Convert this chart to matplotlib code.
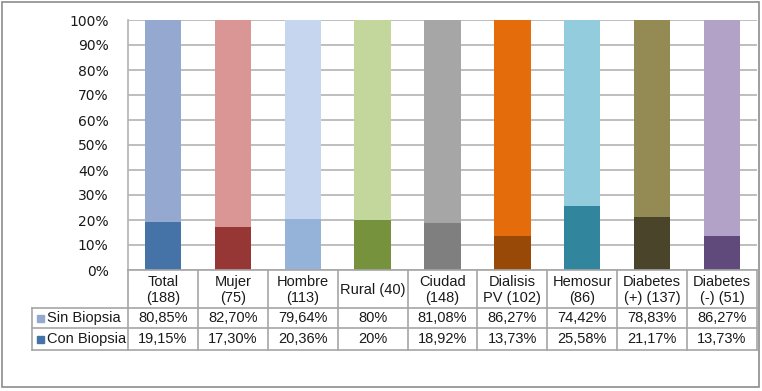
import matplotlib
matplotlib.use("Agg")
import matplotlib.pyplot as plt
import numpy as np

categories = ["Total\n(188)", "Mujer\n(75)", "Hombre\n(113)", "Rural (40)", "Ciudad\n(148)",
              "Dialisis\nPV (102)", "Hemosur\n(86)", "Diabetes\n(+) (137)", "Diabetes\n(-) (51)"]
sin_biopsia = [80.85, 82.70, 79.64, 80.0, 81.08, 86.27, 74.42, 78.83, 86.27]
con_biopsia = [19.15, 17.30, 20.36, 20.0, 18.92, 13.73, 25.58, 21.17, 13.73]
sin_labels = ["80,85%", "82,70%", "79,64%", "80%", "81,08%", "86,27%", "74,42%", "78,83%", "86,27%"]
con_labels = ["19,15%", "17,30%", "20,36%", "20%", "18,92%", "13,73%", "25,58%", "21,17%", "13,73%"]
series_names = ["Sin Biopsia", "Con Biopsia"]

top_colors = ["#95A9D0", "#DA9694", "#C5D6EE", "#C3D69B", "#A6A6A6",
              "#E46C0A", "#93CDDD", "#948A54", "#B3A2C7"]
bottom_colors = ["#4573A7", "#963735", "#95B2D8", "#76923C", "#7F7F7F",
                 "#984807", "#31859C", "#4A452A", "#604A7B"]

W, H = 762, 391
fig = plt.figure(figsize=(W / 100, H / 100), dpi=100)

def fx(px):
    return px / W

def fy(py):
    return 1 - py / H

x0, x1, ytop, ybot = 128, 757, 20, 270
ax = fig.add_axes([fx(x0), fy(ybot), fx(x1) - fx(x0), fy(ytop) - fy(ybot)])

n = len(categories)
x = np.arange(n)
ax.bar(x, con_biopsia, width=0.52, color=bottom_colors, zorder=3)
ax.bar(x, sin_biopsia, width=0.52, bottom=con_biopsia, color=top_colors, zorder=3)
ax.set_xlim(-0.5, n - 0.5)
ax.set_ylim(0, 100)
ax.set_yticks(range(0, 101, 10))
ax.set_yticklabels([f"{v}%" for v in range(0, 101, 10)], fontsize=10,
                   family="DejaVu Sans", color="#1A1A1A")
ax.tick_params(axis="y", length=0, pad=14)
ax.set_xticks([])
ax.grid(axis="y", color="#B3B3B3", linewidth=1.2, zorder=0)
for s in ["top", "right", "bottom"]:
    ax.spines[s].set_visible(False)
ax.spines["left"].set_color("#B3B3B3")
ax.spines["left"].set_linewidth(1.2)

# data table drawn in figure pixels
line_kw = dict(color="#A6A6A6", linewidth=1.2, transform=fig.transFigure)
cell_w = (x1 - x0) / n
r0, r1, r2, r3 = 270, 308, 328, 350
legx = 32
fig.add_artist(plt.Line2D([fx(x0), fx(x1)], [fy(r0), fy(r0)], **line_kw))
for yy in (r1, r2, r3):
    fig.add_artist(plt.Line2D([fx(legx), fx(x1)], [fy(yy), fy(yy)], **line_kw))
for i in range(n + 1):
    xx = x0 + i * cell_w
    fig.add_artist(plt.Line2D([fx(xx), fx(xx)], [fy(r0), fy(r3)], **line_kw))
fig.add_artist(plt.Line2D([fx(legx), fx(legx)], [fy(r1), fy(r3)], **line_kw))

tfont = dict(family="Liberation Sans", fontsize=10.5, color="#1A1A1A")
for i, cat in enumerate(categories):
    cx = x0 + (i + 0.5) * cell_w
    fig.text(fx(cx), fy((r0 + r1) / 2 + 1), cat, ha="center", va="center",
             linespacing=1.1, **tfont)
    fig.text(fx(cx), fy((r1 + r2) / 2), sin_labels[i], ha="center", va="center", **tfont)
    fig.text(fx(cx), fy((r2 + r3) / 2), con_labels[i], ha="center", va="center", **tfont)

for row, name, col in [((r1 + r2) / 2, series_names[0], top_colors[0]),
                       ((r2 + r3) / 2, series_names[1], bottom_colors[0])]:
    fig.add_artist(plt.Rectangle((fx(37), fy(row + 3.5)), fx(7), fy(0) - fy(7),
                                 color=col, transform=fig.transFigure))
    fig.text(fx(47), fy(row), name, ha="left", va="center", **tfont)

# outer frame
fig.add_artist(plt.Rectangle((fx(2), fy(387)), fx(757), fy(2) - fy(387), fill=False,
                             edgecolor="#8C8C8C", linewidth=1.2, transform=fig.transFigure))

fig.savefig("out.png", dpi=100)
